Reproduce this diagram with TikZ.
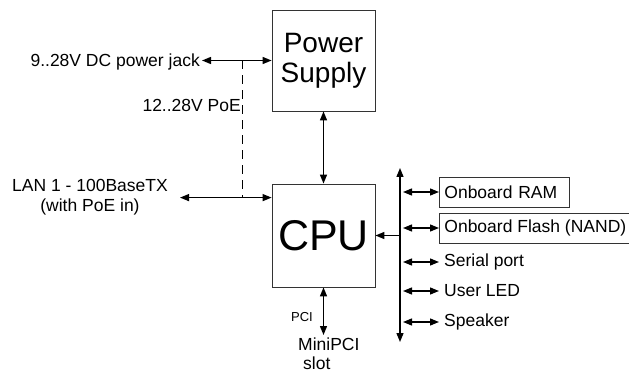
\documentclass[tikz,border=0pt]{standalone}
\usepackage{fontspec}
\setmainfont{Liberation Sans}
\usetikzlibrary{arrows.meta,positioning,calc}

\begin{document}
\begin{tikzpicture}[
    x=1pt, y=1pt,
    block/.style={
        rectangle, draw=black!80, line width=0.8pt, align=center,
        inner sep=0pt
    },
    periph/.style={
        rectangle, anchor=west, inner xsep=5pt, inner ysep=0pt,
        minimum height=30pt, font=\fontsize{17.5}{20}\selectfont
    },
    boxed/.style={periph, draw=black!80, line width=0.8pt, align=left},
    lbl/.style={font=\fontsize{17.5}{20}\selectfont, inner sep=0pt},
    link/.style={{Triangle[length=9pt,width=7pt]}-{Triangle[length=9pt,width=7pt]}, line width=1.3pt},
    arrow/.style={-{Triangle[length=9pt,width=7pt]}, line width=1.3pt},
    poeline/.style={dash pattern=on 9pt off 6pt, line width=0.8pt}
]
\useasboundingbox (0,0) rectangle (629,375);

\node[block, minimum width=103pt, minimum height=101pt, font=\fontsize{28}{30}\selectfont] (psu) at (323.5,314.5) {Power\\Supply};
\node[block, minimum width=103pt, minimum height=103pt, font=\fontsize{43}{45}\selectfont] (cpu) at (323.5,139.5) {CPU};

% power inputs
\node[lbl, anchor=east] (jack) at (200,312.7) {9..28V DC power jack};
\coordinate (poe) at ($(psu.west)+(-29,0)$);
\coordinate (lanin) at ($(cpu.north west)+(0,-14)$);
\node[lbl, anchor=east] (poelbl) at (241,269.5) {12..28V PoE};
\node[lbl, align=center] (lan) at (90,178) {LAN 1 - 100BaseTX\\(with PoE in)};

\draw[link] ($(jack.east |- psu.west)+(2,0)$) -- (psu.west);
\draw[poeline] (poe) -- (poe |- lanin);
\draw[link] ($(lan.east |- lanin)+(12,0)$) -- (lanin);
\draw[link] (psu) -- (cpu);

% local bus
\coordinate (bustop) at (400,207);
\coordinate (busbot) at (400,33);
\draw[link] (busbot) -- (bustop);
\draw[arrow] (cpu.east -| bustop) -- (cpu.east);

\node[boxed, text width=120pt] (ram) at (439,183) {Onboard RAM};
\node[boxed] (flash) at (439,147) {Onboard Flash (NAND)};
\node[periph] (serial) at (439,113) {Serial port};
\node[periph] (led) at (439,84) {User LED};
\node[periph] (spk) at (439,53) {Speaker};

\foreach \dev in {ram,flash,serial,led,spk}
    \draw[link] ($(\dev.west -| bustop)+(3,0)$) -- (\dev.west);

% expansion
\node[lbl, anchor=north west, align=left] (slot) at (298,37) {MiniPCI\\[-1pt]\hspace{5pt}slot};
\node[inner sep=0pt, font=\fontsize{13}{15}\selectfont] (pcilbl) at (302,58) {PCI};
\draw[link] (cpu.south) -- ($(slot.north -| cpu.south)+(0,3)$);
\end{tikzpicture}
\end{document}
